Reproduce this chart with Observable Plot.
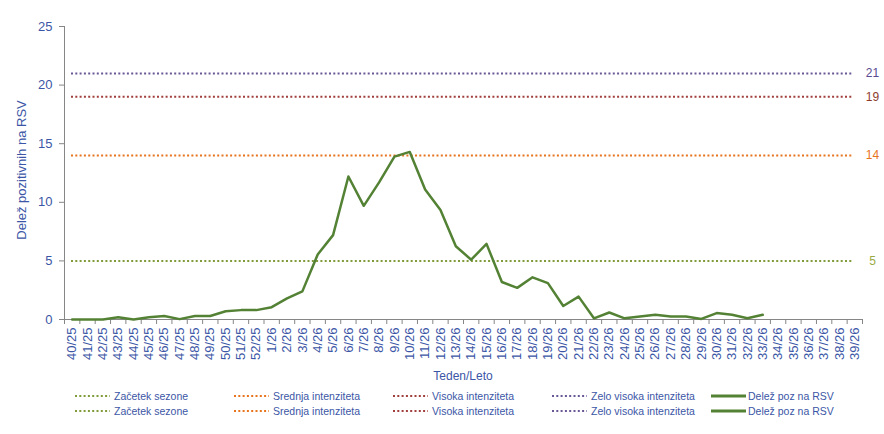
<!DOCTYPE html>
<html>
<head>
<meta charset="utf-8">
<script src="https://cdn.jsdelivr.net/npm/d3@7"></script>
<script src="https://cdn.jsdelivr.net/npm/@observablehq/plot@0.6"></script>
<style>
  html, body { margin: 0; padding: 0; background: #fff; }
  body { width: 884px; height: 434px; overflow: hidden; font-family: "Liberation Sans", Arial, sans-serif; }
  #xtitle { width: 884px; text-align: center; font-size: 12px; line-height: 20px; color: #3B56A6; padding-left: 42px; box-sizing: border-box; }
  .row { display: flex; padding-left: 75px; height: 15px; align-items: center; font-size: 10.5px; color: #3B56A6; }
  .item { display: flex; align-items: center; width: 159px; }
  .item svg { margin-right: 4px; }
  svg { display: block; }
</style>
</head>
<body>
<div id="chart"></div>
<div id="xtitle">Teden/Leto</div>
<div id="legend" style="margin-top:2px"></div>
<script>
const weeks = ["40/25","41/25","42/25","43/25","44/25","45/25","46/25","47/25","48/25","49/25","50/25","51/25","52/25",
  "1/26","2/26","3/26","4/26","5/26","6/26","7/26","8/26","9/26","10/26","11/26","12/26","13/26","14/26","15/26",
  "16/26","17/26","18/26","19/26","20/26","21/26","22/26","23/26","24/26","25/26","26/26","27/26","28/26","29/26",
  "30/26","31/26","32/26","33/26","34/26","35/26","36/26","37/26","38/26","39/26"];
// Delež pozitivnih na RSV (weeks 40/25 .. 33/26)
const share = [0, 0, 0, 0.2, 0, 0.2, 0.3, 0.03, 0.3, 0.3, 0.7, 0.8, 0.8,
  1.05, 1.8, 2.4, 5.55, 7.2, 12.2, 9.7, 11.7, 13.9, 14.3, 11.1, 9.35, 6.25, 5.1, 6.45,
  3.2, 2.7, 3.6, 3.1, 1.15, 1.95, 0.1, 0.6, 0.1, 0.25, 0.4, 0.25, 0.25, 0.05,
  0.55, 0.4, 0.1, 0.4];
const thresholdValues = [5, 14, 19, 21];
const thresholdNames = ["Začetek sezone", "Srednja intenziteta", "Visoka intenziteta", "Zelo visoka intenziteta"];
const thresholdColors = ["#7F9B3A", "#E8741E", "#A13F3C", "#6A5896"];
const thresholdLabelColors = ["#9AAA45", "#E8741E", "#8E3B2C", "#5A4A92"];
const seriesName = "Delež poz na RSV";
const yTicks = [0, 5, 10, 15, 20, 25];

const lineColor = "#548235";
const textBlue = "#3B56A6";
const axisGray = "#868686";

const lineData = share.map((v, i) => ({i: i + 0.5, v}));
const thr = thresholdValues.map((v, k) => ({v, name: thresholdNames[k], color: thresholdColors[k], lc: thresholdLabelColors[k]}));

const chart = Plot.plot({
  width: 884,
  height: 366,
  marginLeft: 64,
  marginRight: 22,
  marginTop: 26,
  marginBottom: 47,
  style: {fontFamily: "'Liberation Sans', Arial, sans-serif", background: "#fff"},
  x: {domain: [0, weeks.length], axis: null, label: null},
  y: {domain: [0, 25], axis: null, label: null},
  marks: [
    // threshold lines
    Plot.ruleY(thr, {y: "v", stroke: "color", strokeWidth: 2, strokeDasharray: "2,2.3", insetLeft: 7, insetRight: 9}),
    Plot.text(thr, {y: "v", text: d => String(d.v), fill: "lc", frameAnchor: "right", dx: 10, textAnchor: "middle", fontSize: 12}),
    // axes lines
    Plot.ruleY([0], {stroke: axisGray, strokeWidth: 1}),
    Plot.ruleX([0], {stroke: axisGray, strokeWidth: 1}),
    // y ticks and labels
    Plot.axisY({ticks: yTicks, tickSize: 5, tickFormat: () => "", color: axisGray, label: null}),
    Plot.axisY({ticks: yTicks, tickSize: 0, tickPadding: 12, color: textBlue, fontSize: 13, label: null}),
    // x boundary ticks
    Plot.axisX({ticks: d3.range(0, weeks.length + 1), tickSize: 5, tickFormat: () => "", color: axisGray, label: null}),
    // x labels at band centres
    Plot.axisX({ticks: d3.range(weeks.length).map(i => i + 0.5), tickSize: 0, tickPadding: 8, tickRotate: -90,
      tickFormat: t => weeks[Math.floor(t)], color: textBlue, fontSize: 13, label: null}),
    // y title
    Plot.text(["Delež pozitivnih na RSV"], {frameAnchor: "left", dx: -43, dy: -3, rotate: -90, fill: textBlue, fontSize: 13, textAnchor: "middle"}),
    // series
    Plot.line(lineData, {x: "i", y: "v", stroke: lineColor, strokeWidth: 2.5, strokeLinejoin: "round"})
  ]
});
document.getElementById("chart").appendChild(chart);

// legend (two identical rows as in the reference)
const legend = document.getElementById("legend");
const items = [...thr.map(d => ({name: d.name, color: d.color, dash: "2,2.3"})), {name: seriesName, color: lineColor, dash: null}];
for (let r = 0; r < 2; r++) {
  const row = document.createElement("div");
  row.className = "row";
  items.forEach((it, k) => {
    const el = document.createElement("div");
    el.className = "item";
    const w = 35;
    el.innerHTML = `<svg width="${w}" height="6"><line x1="0" x2="${w}" y1="3" y2="3" stroke="${it.color}" stroke-width="${it.dash ? 2 : 3}" ${it.dash ? `stroke-dasharray="${it.dash}"` : ""}/></svg><span>${it.name}</span>`;
    if (k === items.length - 1) el.querySelector("svg").style.marginRight = "2px";
    row.appendChild(el);
  });
  legend.appendChild(row);
}
</script>
</body>
</html>
